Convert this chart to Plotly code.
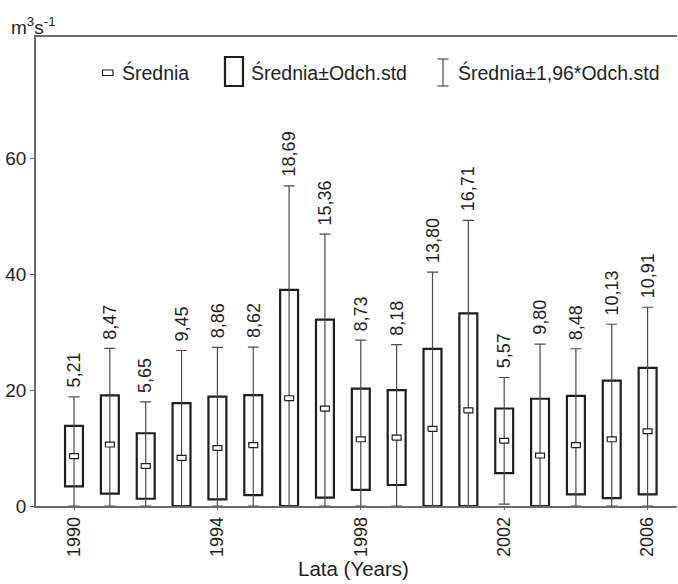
import plotly.graph_objects as go

years = list(range(1990, 2007))
means = [8.6, 10.6, 6.9, 8.3, 10.0, 10.5, 18.6, 16.8, 11.5, 11.8, 13.3, 16.5, 11.25, 8.7, 10.5, 11.5, 12.9]
stds = [5.21, 8.47, 5.65, 9.45, 8.86, 8.62, 18.69, 15.36, 8.73, 8.18, 13.80, 16.71, 5.57, 9.80, 8.48, 10.13, 10.91]
xtick_vals = [1990, 1994, 1998, 2002, 2006]
ytick_vals = [0, 20, 40, 60]
legend_labels = ["Średnia", "Średnia±Odch.std", "Średnia±1,96*Odch.std"]

FONT = "Liberation Sans"
DARK = "#1e1e1e"
AXIS = "#6a6a6a"

W, H = 678, 584
ML, MR, MT, MB = 36, 1, 37, 78
PW, PH = W - ML - MR, H - MT - MB

XR = [1988.94, 2006.82]
YR = [0, 80.9]

def px(x):
    return (x - ML) / PW

def py(y):
    return (H - MB - y) / PH

fig = go.Figure()

# boxes: mean ± std (clipped at axis 0)
box_lo = [max(0.0, m - s) for m, s in zip(means, stds)]
box_hi = [m + s for m, s in zip(means, stds)]
fig.add_trace(go.Bar(
    x=years, y=[h - l for h, l in zip(box_hi, box_lo)], base=box_lo,
    width=0.5, marker=dict(color="rgba(255,255,255,0)", line=dict(color=DARK, width=2.2)),
    showlegend=False, hoverinfo="skip",
))

# whiskers: mean ± 1.96*std (lower end clipped at axis 0)
wh_up = [1.96 * s for s in stds]
wh_dn = [min(1.96 * s, m) for m, s in zip(means, stds)]
fig.add_trace(go.Scatter(
    x=years, y=means, mode="markers",
    marker=dict(size=1, color="rgba(0,0,0,0)"),
    error_y=dict(type="data", symmetric=False, array=wh_up, arrayminus=wh_dn,
                 color="#4a4a4a", thickness=1.2, width=5.5),
    showlegend=False, hoverinfo="skip",
))

# mean markers: small open rectangles
hw, hh = 0.125, 0.42
mx, my = [], []
for x, m in zip(years, means):
    mx += [x - hw, x + hw, x + hw, x - hw, x - hw, None]
    my += [m - hh, m - hh, m + hh, m + hh, m - hh, None]
fig.add_trace(go.Scatter(
    x=mx, y=my, mode="lines", fill="toself", fillcolor="white",
    line=dict(color=DARK, width=1.2), showlegend=False, hoverinfo="skip",
))

annotations = []
for x, m, s in zip(years, means, stds):
    annotations.append(dict(
        x=x, y=m + 1.96 * s, xref="x", yref="y", text=f"{s:.2f}".replace(".", ","),
        textangle=-90, showarrow=False, xanchor="center", yanchor="bottom", yshift=7,
        font=dict(family=FONT, size=18, color=DARK),
    ))

# unit label
annotations.append(dict(
    x=px(9), y=py(40), xref="paper", yref="paper", xanchor="left", yanchor="bottom",
    text="m<sup>3</sup>s<sup>-1</sup>", showarrow=False,
    font=dict(family=FONT, size=19, color=DARK),
))
# x axis title
annotations.append(dict(
    x=px(353), y=py(568), xref="paper", yref="paper", xanchor="center", yanchor="middle",
    text="Lata (Years)", showarrow=False, font=dict(family=FONT, size=20.5, color=DARK),
))

# legend
leg_y = 72.5
leg_text_x = [120, 249, 456]
for tx, lab in zip(leg_text_x, legend_labels):
    annotations.append(dict(
        x=px(tx), y=py(leg_y), xref="paper", yref="paper", xanchor="left", yanchor="middle",
        text=lab, showarrow=False, font=dict(family=FONT, size=19.5, color=DARK),
    ))

shapes = [
    dict(type="rect", xref="paper", yref="paper", x0=px(102.5), x1=px(113), y0=py(75.5), y1=py(70),
         line=dict(color=DARK, width=1.2), fillcolor="white"),
    dict(type="rect", xref="paper", yref="paper", x0=px(225), x1=px(243), y0=py(86), y1=py(57),
         line=dict(color=DARK, width=2.2), fillcolor="rgba(0,0,0,0)"),
    dict(type="line", xref="paper", yref="paper", x0=px(443), x1=px(443), y0=py(86), y1=py(59),
         line=dict(color="#4a4a4a", width=1.2)),
    dict(type="line", xref="paper", yref="paper", x0=px(437.5), x1=px(448.5), y0=py(59), y1=py(59),
         line=dict(color="#4a4a4a", width=1.2)),
    dict(type="line", xref="paper", yref="paper", x0=px(437.5), x1=px(448.5), y0=py(86), y1=py(86),
         line=dict(color="#4a4a4a", width=1.2)),
]

fig.update_layout(
    width=W, height=H,
    margin=dict(l=ML, r=MR, t=MT, b=MB, pad=0),
    paper_bgcolor="white", plot_bgcolor="white",
    barmode="overlay", showlegend=False,
    annotations=annotations, shapes=shapes,
    font=dict(family=FONT, color=DARK),
    xaxis=dict(
        range=XR, tickvals=xtick_vals, ticktext=[str(v) for v in xtick_vals],
        tickangle=-90, tickfont=dict(family=FONT, size=18, color=DARK),
        showgrid=False, zeroline=False, showline=True, mirror=True,
        linecolor=AXIS, linewidth=1.5, ticks="outside", ticklen=2, tickcolor=AXIS, tickwidth=1.2,
    ),
    yaxis=dict(
        range=YR, tickvals=ytick_vals, tickfont=dict(family=FONT, size=19, color=DARK),
        showgrid=False, zeroline=False, showline=True, mirror=False,
        linecolor=AXIS, linewidth=1.5, ticks="outside", ticklen=4, tickcolor=AXIS, tickwidth=1.2,
    ),
)

fig.write_html("out.html")
